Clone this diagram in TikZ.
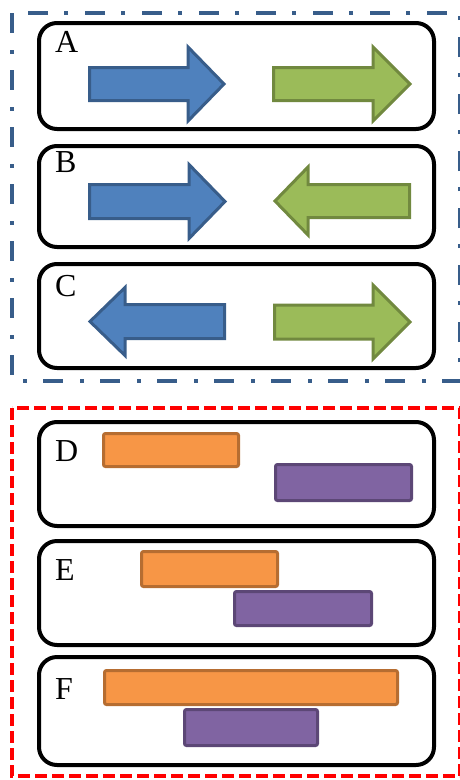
\documentclass[tikz,border=0pt]{standalone}
\usepackage{fontspec}
\setmainfont{Liberation Serif}

\definecolor{frameblue}{HTML}{385D8A}
\definecolor{framered}{HTML}{FF0000}
\definecolor{arrblue}{HTML}{4F81BD}
\definecolor{arrblueline}{HTML}{385D8A}
\definecolor{arrgreen}{HTML}{9BBB59}
\definecolor{arrgreenline}{HTML}{71893F}
\definecolor{barorange}{HTML}{F79646}
\definecolor{barorangeline}{HTML}{B66D31}
\definecolor{barpurple}{HTML}{8064A2}
\definecolor{barpurpleline}{HTML}{5C4776}

% block arrow: style, tail x, head-base x, tip x, centre y, shaft half height, head half height
\newcommand\blockarrow[7]{%
  \draw[#1] (#2,#5-#6) -- (#3,#5-#6) -- (#3,#5-#7) -- (#4,#5)
    -- (#3,#5+#7) -- (#3,#5+#6) -- (#2,#5+#6) -- cycle;}

\tikzset{
  groupblue/.style={draw=frameblue, line width=4pt,
    dash pattern=on 20pt off 17pt on 4pt off 16pt},
  groupred/.style={draw=framered, line width=4pt,
    dash pattern=on 12pt off 5pt},
  panel/.style={draw=black, line width=4pt, rounded corners=18pt},
  bluearrow/.style={fill=arrblue, draw=arrblueline, line width=3pt, line join=miter},
  greenarrow/.style={fill=arrgreen, draw=arrgreenline, line width=3pt, line join=miter},
  orangebar/.style={fill=barorange, draw=barorangeline, line width=3pt, rounded corners=2pt},
  purplebar/.style={fill=barpurple, draw=barpurpleline, line width=3pt, rounded corners=2pt},
  caselabel/.style={inner sep=0pt, anchor=base west,
    font=\fontsize{32}{32}\selectfont},
}

\begin{document}
\begin{tikzpicture}[x=1pt, y=-1pt]
\useasboundingbox (0,0) rectangle (459,780);

% outer group frames
\draw[groupblue] (12,13) rectangle (460,381);
\draw[groupred] (12,408) rectangle (460,776);

% panels
\draw[panel] (39,23) rectangle (434,129);
\draw[panel] (39,146) rectangle (434,247);
\draw[panel] (39,264) rectangle (434,368);
\draw[panel] (39,422) rectangle (434,526);
\draw[panel] (39,541) rectangle (434,645);
\draw[panel] (39,657) rectangle (434,765);

% labels
\node[caselabel] (labA) at (55,52) {A};
\node[caselabel] (labB) at (55,172) {B};
\node[caselabel] (labC) at (55,296) {C};
\node[caselabel] (labD) at (55,461) {D};
\node[caselabel] (labE) at (55,580) {E};
\node[caselabel] (labF) at (55,699) {F};

% A: both to the right
\blockarrow{bluearrow}{89.5}{188}{224}{84}{16.5}{37}
\blockarrow{greenarrow}{273.5}{373}{410}{84}{16.5}{37}
% B: towards each other
\blockarrow{bluearrow}{89.5}{189}{225}{201.5}{17}{37}
\blockarrow{greenarrow}{409.5}{308}{275}{201}{16.5}{34}
% C: away from each other
\blockarrow{bluearrow}{224.5}{125}{90}{321.5}{17}{34}
\blockarrow{greenarrow}{274.5}{373}{410}{322}{17}{37}

% D: disjoint intervals
\draw[orangebar] (103.5,433.5) rectangle (238.5,466.5);
\draw[purplebar] (275.5,464.5) rectangle (411.5,500.5);
% E: overlapping intervals
\draw[orangebar] (141.5,551.5) rectangle (277.5,586.5);
\draw[purplebar] (234.5,591.5) rectangle (371.5,625.5);
% F: contained interval
\draw[orangebar] (104.5,670.5) rectangle (397.5,704.5);
\draw[purplebar] (184.5,709.5) rectangle (317.5,745.5);
\end{tikzpicture}
\end{document}
